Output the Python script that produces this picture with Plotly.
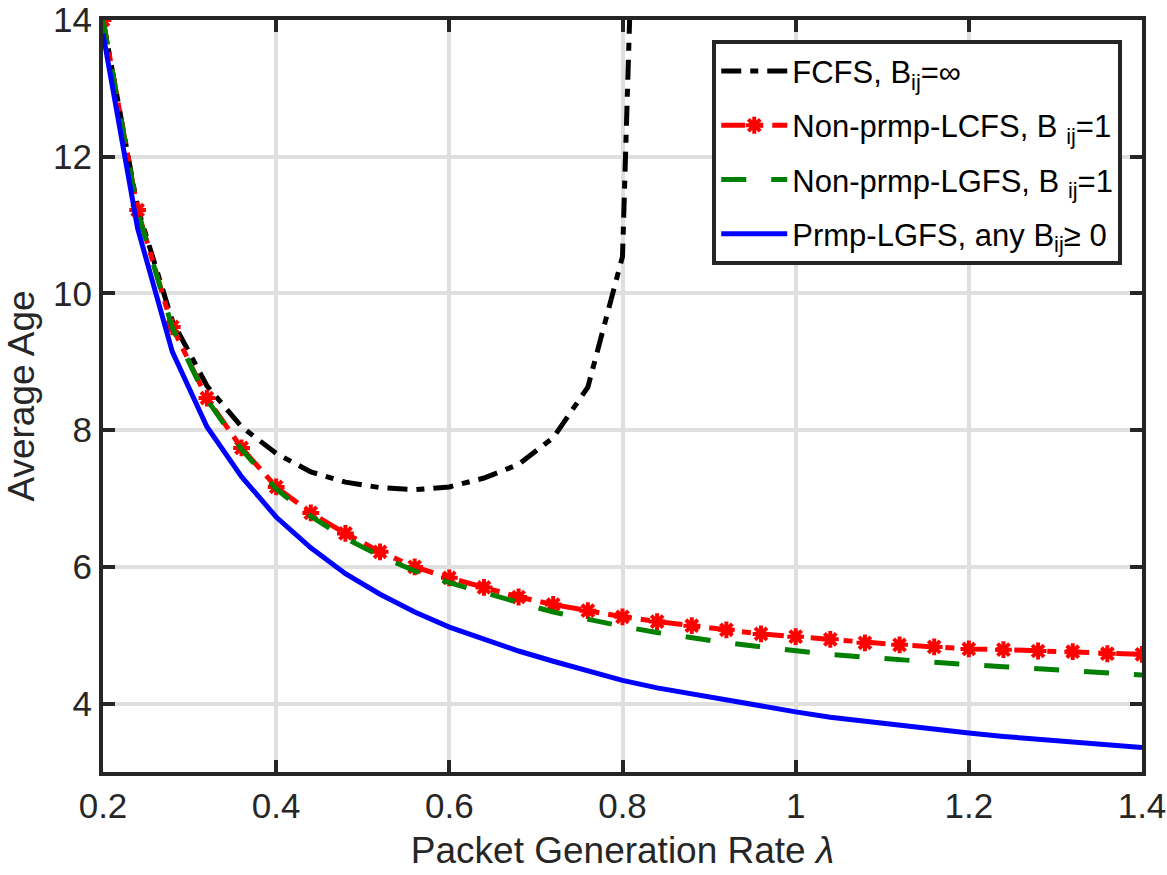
import plotly.graph_objects as go

lam = [0.20, 0.24, 0.28, 0.32, 0.36, 0.40, 0.44, 0.48, 0.52, 0.56, 0.60,
       0.64, 0.68, 0.72, 0.76, 0.80, 0.84, 0.88, 0.92, 0.96, 1.00,
       1.04, 1.08, 1.12, 1.16, 1.20, 1.24, 1.28, 1.32, 1.36, 1.40]

lam_fcfs = [0.20, 0.24, 0.28, 0.32, 0.36, 0.40, 0.44, 0.48, 0.52, 0.56, 0.60,
            0.64, 0.68, 0.72, 0.76, 0.80, 0.84]
age_fcfs = [14.0, 11.25, 9.6, 8.65, 8.05, 7.66, 7.39, 7.24, 7.16, 7.13, 7.17,
            7.30, 7.50, 7.89, 8.63, 10.54, 27.4]

age_lcfs = [14.0, 11.22, 9.51, 8.47, 7.74, 7.17, 6.79, 6.49, 6.22, 6.00, 5.84,
            5.70, 5.56, 5.45, 5.36, 5.27, 5.20, 5.14, 5.08, 5.02, 4.98,
            4.94, 4.89, 4.86, 4.83, 4.80, 4.79, 4.77, 4.76, 4.73, 4.72]

age_lgfs = [14.0, 11.2, 9.5, 8.45, 7.72, 7.14, 6.74, 6.42, 6.16, 5.94, 5.77,
            5.62, 5.48, 5.34, 5.23, 5.13, 5.04, 4.96, 4.89, 4.83, 4.77,
            4.72, 4.68, 4.64, 4.60, 4.57, 4.54, 4.51, 4.48, 4.45, 4.42]

age_prmp = [13.8, 10.95, 9.15, 8.05, 7.32, 6.73, 6.28, 5.90, 5.60, 5.34, 5.12,
            4.94, 4.77, 4.62, 4.48, 4.34, 4.23, 4.14, 4.05, 3.96, 3.88,
            3.80, 3.74, 3.68, 3.62, 3.57, 3.52, 3.48, 3.44, 3.40, 3.36]

names = ["FCFS, B<sub>ij</sub>=∞",
         "Non-prmp-LCFS, B <sub>ij</sub>=1",
         "Non-prmp-LGFS, B <sub>ij</sub>=1",
         "Prmp-LGFS, any B<sub>ij</sub>≥ 0"]

x_ticks = [0.2, 0.4, 0.6, 0.8, 1.0, 1.2, 1.4]
x_tick_text = ["0.2", "0.4", "0.6", "0.8", "1", "1.2", "1.4"]
y_ticks = [4, 6, 8, 10, 12, 14]

AX = "#262626"
FONT = "Liberation Sans, Arial, Helvetica, sans-serif"

fig = go.Figure()
fig.add_trace(go.Scatter(x=lam_fcfs, y=age_fcfs, mode="lines", name=names[0],
                         legendgroup="g1",
                         line=dict(color="black", width=5, dash="20px,9px,8px,9px")))
fig.add_trace(go.Scatter(x=lam, y=age_lcfs, mode="lines+markers", name=names[1],
                         legendgroup="g2",
                         line=dict(color="#ff0000", width=5, dash="24px,9px,9px,9px"),
                         marker=dict(symbol="asterisk-open", size=14, color="#ff0000",
                                     line=dict(color="#ff0000", width=4))))
fig.add_trace(go.Scatter(x=lam, y=age_lgfs, mode="lines", name=names[2],
                         legendgroup="g3",
                         line=dict(color="#008000", width=5, dash="25px,25px")))
fig.add_trace(go.Scatter(x=lam, y=age_prmp, mode="lines", name=names[3],
                         legendgroup="g4",
                         line=dict(color="#0000ff", width=5)))

axis_common = dict(
    showline=True, linewidth=4, linecolor=AX, mirror="allticks",
    ticks="inside", ticklen=12, tickwidth=4, tickcolor=AX,
    showgrid=True, gridcolor="#dfdfdf", gridwidth=4,
    zeroline=False, automargin=False,
    tickfont=dict(family=FONT, size=35, color=AX),
)

fig.update_xaxes(range=[0.2, 1.4], tickvals=x_ticks, ticktext=x_tick_text,
                 title=dict(text="Packet Generation Rate <i>λ</i>",
                            font=dict(family=FONT, size=37, color=AX), standoff=14),
                 **axis_common)
fig.update_yaxes(range=[3, 14], tickvals=y_ticks,
                 title=dict(text="Average Age",
                            font=dict(family=FONT, size=37, color=AX), standoff=8),
                 **axis_common)

fig.update_layout(
    width=1167, height=875,
    margin=dict(l=103, r=25, t=20, b=103, autoexpand=False),
    plot_bgcolor="white", paper_bgcolor="white",
    font=dict(family=FONT, color="black"),
    legend=dict(x=0.981, y=0.973, xanchor="right", yanchor="top",
                bgcolor="white", bordercolor=AX, borderwidth=4,
                font=dict(family=FONT, size=31, color="black"),
                itemwidth=66, tracegroupgap=11),
    showlegend=True,
)

fig.write_html("out.html")
